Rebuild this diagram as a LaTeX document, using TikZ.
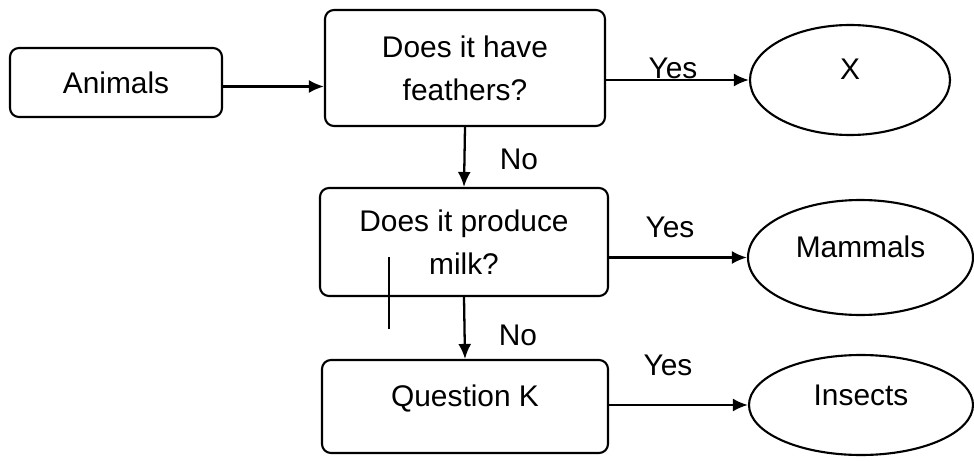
\documentclass[tikz,border=0pt]{standalone}
\usepackage{fontspec}
\setmainfont{Liberation Sans}
\usetikzlibrary{arrows.meta,shapes.geometric}

\begin{document}
\begin{tikzpicture}[
  box/.style={draw,rounded corners=0.18cm,line width=1.2pt,align=center},
  oval/.style={draw,ellipse,line width=1.2pt,inner sep=0pt},
  raise/.style={text height=0.43cm,text depth=0.43cm},
  arr/.style={-{Latex[length=0.3cm,width=0.26cm]},line width=1.3pt},
  font=\fontsize{17}{24.5}\selectfont]
\useasboundingbox (0,0) rectangle (19.48,-9.24);
\node[box,minimum width=4.24cm,minimum height=1.38cm] (A) at (2.32,-1.65) {Animals};
\node[box,minimum width=5.6cm,minimum height=2.32cm] (F) at (9.3,-1.36) {Does it have\\feathers?};
\node[box,minimum width=5.76cm,minimum height=2.16cm] (M) at (9.28,-4.84) {Does it produce\\milk?};
\node[box,raise,minimum width=5.72cm,minimum height=1.86cm] (K) at (9.3,-8.13) {Question K};
\node[oval,raise,minimum width=4cm,minimum height=2.2cm] (X) at (17,-1.6) {X};
\node[oval,raise,minimum width=4.5cm,minimum height=2.3cm] (Ma) at (17.21,-5.15) {Mammals};
\node[oval,raise,minimum width=4.48cm,minimum height=2cm] (I) at (17.22,-8.1) {Insects};
\draw[arr] ([yshift=-0.08cm]A.east) -- ([yshift=-0.08cm]A.east -| F.west);
\draw[arr] (X.west -| F.east) -- (X.west);
\draw[arr] (Ma.west -| M.east) -- (Ma.west);
\draw[arr] (I.west -| K.east) -- (I.west);
\draw[arr] (F.south) -- (M.north);
\draw[arr] (M.south) -- (K.north);
\node (1) at (13.46,-1.36) {Yes};
\node (2) at (13.4,-4.54) {Yes};
\node (3) at (13.36,-7.3) {Yes};
\node (4) at (10.38,-3.18) {No};
\node (5) at (10.36,-6.7) {No};
%\draw (7.78,-5.14) -- (7.78,-6.58);
\draw[line width=0.6pt] (7.78,-5.14) -- (7.78,-6.58);
\end{tikzpicture}
\end{document}
